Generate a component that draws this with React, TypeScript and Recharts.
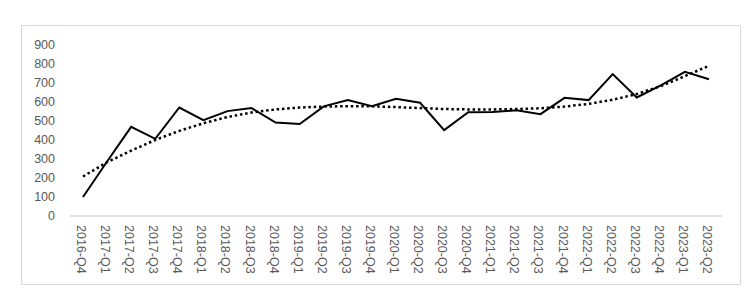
import { LineChart, Line, XAxis, YAxis } from 'recharts';

const quarters = [
  '2016-Q4', '2017-Q1', '2017-Q2', '2017-Q3', '2017-Q4', '2018-Q1', '2018-Q2', '2018-Q3', '2018-Q4',
  '2019-Q1', '2019-Q2', '2019-Q3', '2019-Q4', '2020-Q1', '2020-Q2', '2020-Q3', '2020-Q4',
  '2021-Q1', '2021-Q2', '2021-Q3', '2021-Q4', '2022-Q1', '2022-Q2', '2022-Q3', '2022-Q4',
  '2023-Q1', '2023-Q2',
];

const values = [
  100, 287, 469, 406, 571, 504, 552, 568, 492, 484, 577, 610, 578, 617, 596, 452, 546,
  547, 556, 536, 622, 610, 747, 624, 688, 759, 720,
];

// dotted polynomial trend
const trend = [
  208, 283, 344, 400, 448, 488, 521, 545, 561, 571, 576, 578, 577, 573, 568, 563, 561,
  561, 563, 567, 576, 590, 612, 642, 684, 736, 791,
];

const yTicks = [0, 100, 200, 300, 400, 500, 600, 700, 800, 900];

const data = quarters.map((q, i) => ({ q, value: values[i], trend: trend[i] }));

const labelColor = '#595959';
const font = '"Liberation Sans", Arial, sans-serif';

function QuarterTick({ x, y, payload }: any) {
  return (
    <text
      x={x}
      y={y}
      dy={6}
      transform={`rotate(90, ${x}, ${y})`}
      textAnchor="start"
      fill={labelColor}
      fontSize={12.5}
      fontFamily={font}
    >
      {payload.value}
    </text>
  );
}

export default function App() {
  return (
    <div style={{ position: 'absolute', left: 0, top: 0, width: 754, height: 306, background: '#fff' }}>
      <div
        style={{
          position: 'absolute',
          left: 21,
          top: 25,
          width: 718,
          height: 258,
          border: '1px solid #d9d9d9',
        }}
      />
      <LineChart
        width={754}
        height={306}
        data={data}
        margin={{ top: 45, right: 32, bottom: 30, left: 20 }}
        style={{ position: 'absolute', left: 0, top: 0 }}
      >
        <XAxis
          dataKey="q"
          interval={0}
          padding={{ left: 13, right: 13 }}
          height={60}
          tickSize={0}
          tickMargin={9}
          axisLine={{ stroke: '#d9d9d9', strokeWidth: 1.5 }}
          tickLine={false}
          tick={<QuarterTick />}
        />
        <YAxis
          domain={[0, 900]}
          ticks={yTicks}
          interval={0}
          width={50}
          tickSize={0}
          tickMargin={15}
          axisLine={false}
          tickLine={false}
          tick={{ fill: labelColor, fontSize: 12.5, fontFamily: font }}
        />
        <Line
          type="linear"
          dataKey="value"
          stroke="#000"
          strokeWidth={2}
          dot={false}
          isAnimationActive={false}
        />
        <Line
          type="linear"
          dataKey="trend"
          stroke="#000"
          strokeWidth={2.5}
          strokeDasharray="2.5 2.8"
          dot={false}
          isAnimationActive={false}
        />
      </LineChart>
    </div>
  );
}
